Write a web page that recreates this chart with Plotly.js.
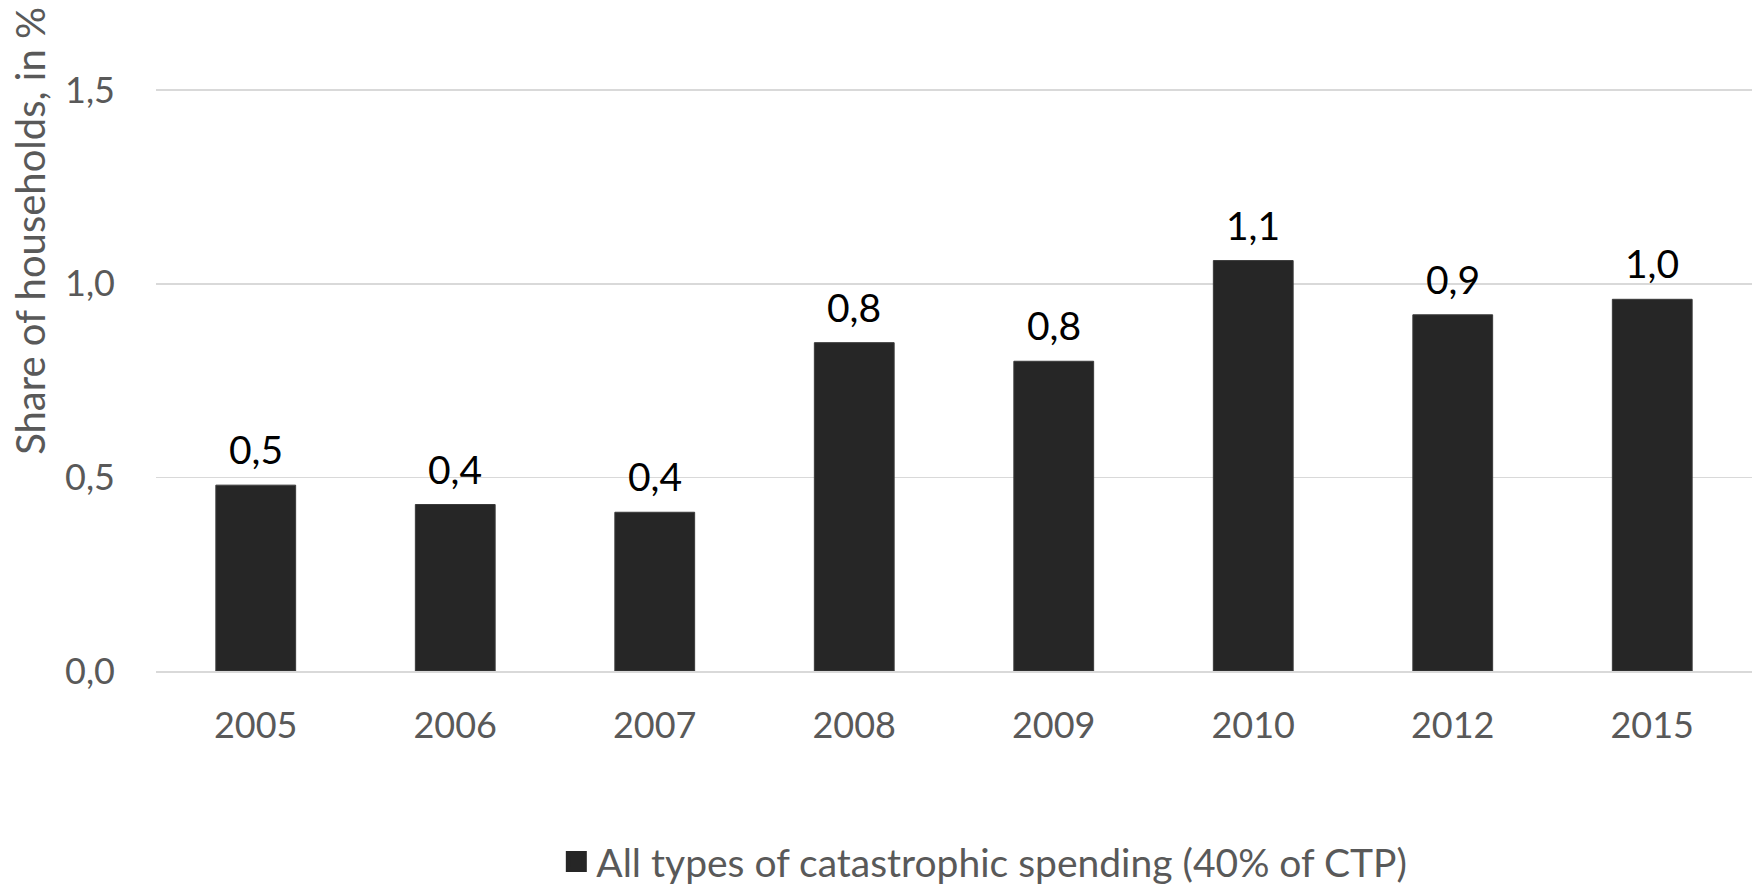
<!DOCTYPE html>
<html>
<head>
<meta charset="utf-8">
<script src="https://cdn.plot.ly/plotly-3.0.1.min.js"></script>
<style>
  html, body { margin: 0; padding: 0; background: #ffffff; }
  #chart { width: 1755px; height: 887px; }
</style>
</head>
<body>
<div id="chart"></div>
<script>
// Survey years and the share of households with catastrophic health spending
const years = ['2005', '2006', '2007', '2008', '2009', '2010', '2012', '2015'];
const shareOfHouseholds = [0.48, 0.43, 0.41, 0.848, 0.80, 1.06, 0.92, 0.96];
const seriesName = 'All types of catastrophic spending (40% of CTP)';
const yTickValues = [0, 0.5, 1.0, 1.5];
const yTickLabels = ['0,0', '0,5', '1,0', '1,5'];
const yAxisTitle = 'Share of households, in %';

const FONT = 'Lato, "Open Sans", "Noto Sans", sans-serif';
const BAR_COLOR = '#262626';

// Value labels above each bar (x given as category index), decimal comma
const valueLabels = years.map((yr, i) => ({
  x: i,
  y: shareOfHouseholds[i],
  xref: 'x',
  yref: 'y',
  text: shareOfHouseholds[i].toFixed(1).replace('.', ','),
  showarrow: false,
  yanchor: 'middle',
  yshift: 36,
  font: { family: FONT, size: 39, color: '#000000' }
}));

const bars = {
  type: 'bar',
  x: years,
  y: shareOfHouseholds,
  name: seriesName,
  showlegend: false,
  marker: { color: BAR_COLOR, line: { color: '#3a3a3a', width: 1 } },
  hoverinfo: 'x+y'
};

// Legend entry with a larger square swatch for the bar series
const legendKey = {
  type: 'scatter',
  mode: 'markers',
  x: [null],
  y: [null],
  name: seriesName,
  showlegend: true,
  marker: { symbol: 'square', size: 16, color: BAR_COLOR, line: { color: BAR_COLOR, width: 5 } },
  hoverinfo: 'skip'
};

const layout = {
  width: 1755,
  height: 887,
  margin: { l: 156, r: 3, t: 20, b: 216, autoexpand: false },
  paper_bgcolor: '#ffffff',
  plot_bgcolor: '#ffffff',
  bargap: 0.6,
  showlegend: true,
  legend: {
    orientation: 'h',
    x: 0.519,
    xanchor: 'center',
    y: -0.293,
    yanchor: 'middle',
    font: { family: FONT, size: 39, color: '#595959' },
    itemwidth: 30,
    itemsizing: 'trace'
  },
  xaxis: {
    type: 'category',
    categoryorder: 'array',
    categoryarray: years,
    range: [-0.5, years.length - 0.5],
    showgrid: false,
    showline: true,
    linecolor: '#d9d9d9',
    linewidth: 1.5,
    ticks: '',
    ticklabelstandoff: 22,
    tickfont: { family: FONT, size: 36, color: '#595959' },
    zeroline: false
  },
  yaxis: {
    range: [0, 1.6814],
    tickvals: yTickValues,
    ticktext: yTickLabels,
    showgrid: true,
    gridcolor: '#d9d9d9',
    gridwidth: 1.5,
    zeroline: false,
    showline: false,
    ticks: '',
    ticklabelstandoff: 40,
    tickfont: { family: FONT, size: 36, color: '#595959' }
  },
  annotations: valueLabels.concat([{
    text: yAxisTitle,
    xref: 'paper',
    yref: 'paper',
    x: -0.079,
    y: 0.676,
    xanchor: 'center',
    yanchor: 'middle',
    textangle: -90,
    showarrow: false,
    font: { family: FONT, size: 40, color: '#595959' }
  }])
};

Plotly.newPlot('chart', [bars, legendKey], layout, { displayModeBar: false, staticPlot: true });
</script>
</body>
</html>
